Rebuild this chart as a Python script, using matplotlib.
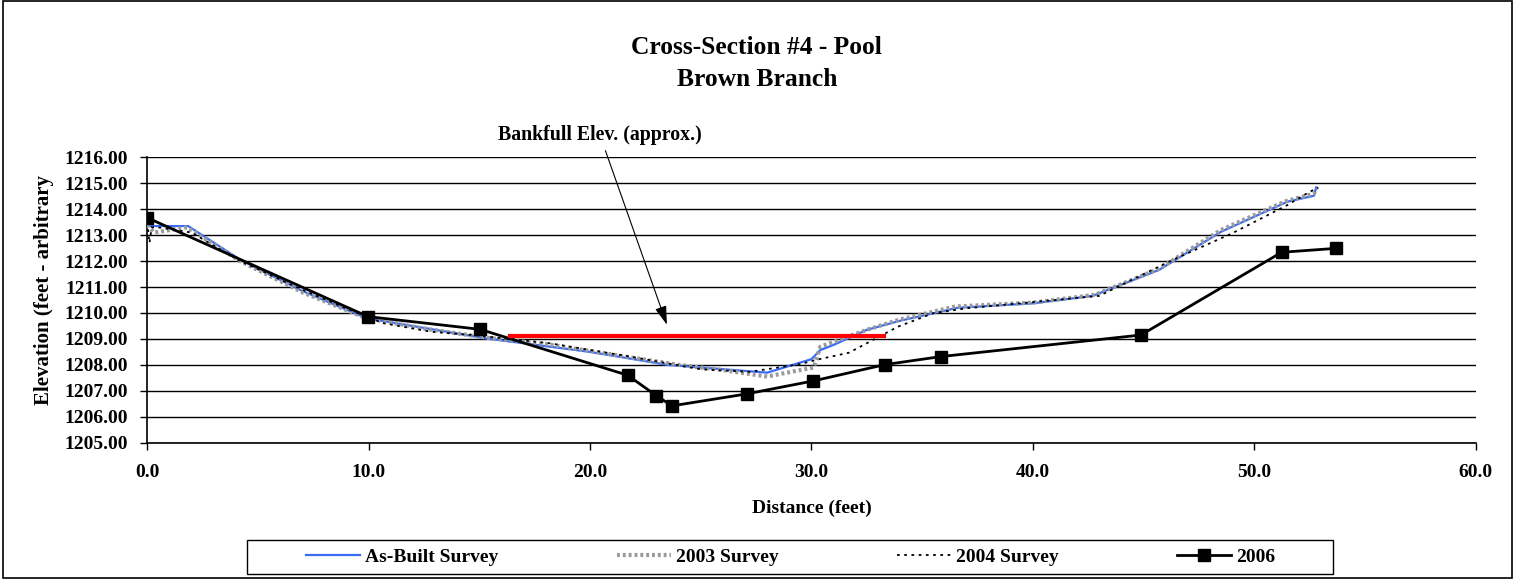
import numpy as np
import matplotlib.pyplot as plt
import matplotlib.patches as mpatches

plt.rcParams.update({
    "font.family": ["Liberation Serif", "DejaVu Serif"],
    "font.weight": "bold",
    "axes.labelweight": "bold",
})

# ------------------------------------------------------------------
# Datos (distancia en pies, elevacion en pies)
# ------------------------------------------------------------------
x_asbuilt = [0, 1.85, 4.2, 7.0, 9.9, 15.3, 20.0, 23.5, 28.0, 30.0, 30.4, 31.0,
             32.5, 34.0, 36.6, 40.0, 42.7, 45.7, 48.5, 51.5, 52.7, 52.8]
y_asbuilt = [1213.35, 1213.35, 1212.05, 1210.85, 1209.8, 1209.02, 1208.5, 1208.0,
             1207.7, 1208.22, 1208.57, 1208.77, 1209.35, 1209.7, 1210.2, 1210.37,
             1210.66, 1211.66, 1213.13, 1214.29, 1214.52, 1214.84]

x_2003 = [0, 0.3, 1.8, 4.2, 7.0, 9.9, 12.5, 15.3, 18.0, 21.0, 24.0, 26.0, 28.0,
          30.1, 30.4, 32.5, 34.0, 36.5, 40.0, 42.8, 45.7, 48.5, 51.4, 52.7, 52.8]
y_2003 = [1213.4, 1213.1, 1213.3, 1212.0, 1210.8, 1209.8, 1209.4, 1209.05, 1208.8,
          1208.4, 1208.0, 1207.8, 1207.55, 1207.9, 1208.7, 1209.35, 1209.75, 1210.25,
          1210.4, 1210.7, 1211.7, 1213.2, 1214.3, 1214.6, 1214.8]

x_2004 = [0, 0.1, 0.2, 0.5, 2.0, 4.2, 7.0, 9.9, 10.7, 12.8, 14.7, 18.2, 22.0, 25.0,
          27.2, 29.5, 30.2, 31.7, 33.9, 35.5, 37.0, 43.0, 46.3, 49.0, 51.5, 52.5, 52.9]
y_2004 = [1213.5, 1212.7, 1213.3, 1213.3, 1213.1, 1212.0, 1210.9, 1209.85, 1209.6,
          1209.28, 1209.15, 1208.83, 1208.29, 1207.83, 1207.73, 1208.03, 1208.19,
          1208.47, 1209.47, 1209.99, 1210.18, 1210.66, 1212.04, 1213.07, 1214.16,
          1214.67, 1214.83]

x_2006 = [0, 9.97, 15.03, 21.7, 23.0, 23.7, 27.07, 30.08, 33.32, 35.85, 44.88, 51.24, 53.68]
y_2006 = [1213.67, 1209.86, 1209.37, 1207.6, 1206.81, 1206.42, 1206.88, 1207.38,
          1208.01, 1208.32, 1209.15, 1212.34, 1212.49]

x_bankfull = [16.4, 33.3]
y_bankfull = [1209.1, 1209.1]

x_ticks = np.arange(0, 61, 10)
y_ticks = np.arange(1205, 1217, 1)

W, H = 1515, 579

# ------------------------------------------------------------------
# Figura
# ------------------------------------------------------------------
fig = plt.figure(figsize=(W / 100, H / 100), dpi=100)
fig.patches.append(mpatches.Rectangle((0.002, 0.002), 0.996, 0.996, transform=fig.transFigure,
                                      fill=False, edgecolor="black", lw=1.2))
ax = fig.add_axes([0.0972, 0.2354, 0.8768, 0.4929])

ax.plot(x_asbuilt, y_asbuilt, color="#3a6cf4", lw=1.6, label="As-Built Survey", zorder=3)
ax.plot(x_2003, y_2003, color="#9a9a9a", lw=3, ls=(0, (0.7, 0.7)), label="2003 Survey", zorder=3)
ax.plot(x_2004, y_2004, color="black", lw=1.3, ls=(0, (1.5, 2.5)), label="2004 Survey", zorder=4)
ax.plot(x_2006, y_2006, color="black", lw=2, marker="s", ms=8.5, label="2006", zorder=5)
ax.plot(x_bankfull, y_bankfull, color="#ff0000", lw=3, zorder=6)

ax.annotate("Bankfull Elev. (approx.)", xy=(23.47, 1209.55), xytext=(20.45, 1216.85),
            ha="center", va="center", fontsize=14.3, fontweight="bold",
            annotation_clip=False,
            arrowprops=dict(arrowstyle="-|>,head_length=0.8,head_width=0.25",
                            color="black", lw=0.8, shrinkA=2, shrinkB=0))

ax.set_xlim(0, 60)
ax.set_ylim(1205, 1216)
ax.set_xticks(x_ticks)
ax.set_yticks(y_ticks)
ax.set_xticklabels([f"{v:.1f}" for v in x_ticks], fontsize=14, fontweight="bold")
ax.set_yticklabels([f"{v:.2f}" for v in y_ticks], fontsize=14, fontweight="bold")
ax.tick_params(direction="out", length=5, width=1, color="black")
ax.tick_params(axis="x", pad=10)
ax.tick_params(axis="y", pad=9)
ax.grid(axis="y", color="black", lw=1)
ax.set_axisbelow(True)
for s in ["top", "right"]:
    ax.spines[s].set_visible(False)
for s in ["left", "bottom"]:
    ax.spines[s].set_linewidth(1.2)

ax.set_xlabel("Distance (feet)", fontsize=14, labelpad=14)
ax.set_ylabel("Elevation (feet - arbitrary", fontsize=15)
ax.yaxis.set_label_coords(-0.070, 0.535)

fig.text(0.4995, 1 - 47 / H, "Cross-Section #4 - Pool", ha="center", va="center",
         fontsize=18.4, fontweight="bold")
fig.text(0.4995, 1 - 80 / H, "Brown Branch", ha="center", va="center",
         fontsize=18.4, fontweight="bold")

# cuadro de la leyenda dibujado aparte, entradas repartidas dentro
fig.patches.append(mpatches.Rectangle((247 / W, 1 - 574 / H), (1333 - 247) / W, 34 / H,
                                      transform=fig.transFigure, fill=False,
                                      edgecolor="black", lw=1))
leg = fig.legend(loc="center", bbox_to_anchor=(306 / W, 1 - 574 / H, (1275 - 306) / W, 34 / H),
                 mode="expand", ncol=4, frameon=False, fontsize=14,
                 handlelength=2.8, handletextpad=0.25, borderaxespad=0, borderpad=0)

plt.savefig("out.png", dpi=100)
